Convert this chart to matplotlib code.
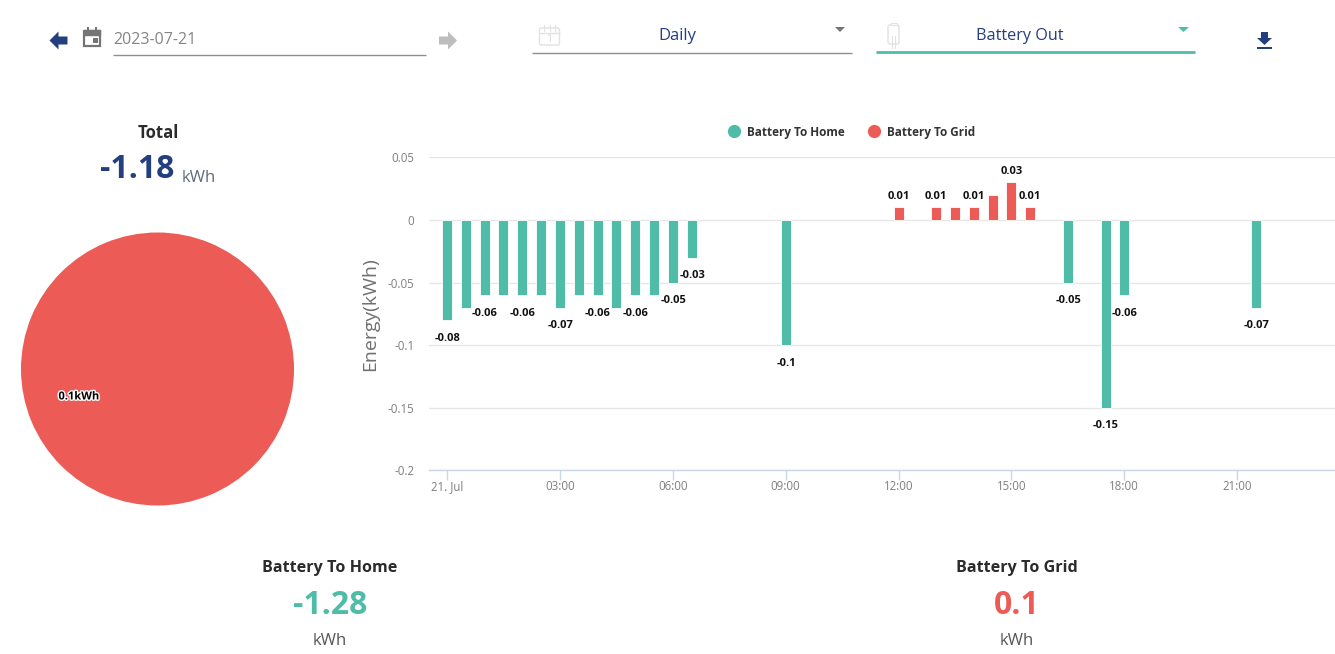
import numpy as np
import matplotlib
matplotlib.use('Agg')
import matplotlib.pyplot as plt
import matplotlib.patheffects as pe
from matplotlib.patches import Polygon, Rectangle, FancyBboxPatch

plt.rcParams['font.family'] = ['Open Sans', 'DejaVu Sans']

# half hour slots, x is hours after midnight
home_hours = [0, 0.5, 1, 1.5, 2, 2.5, 3, 3.5, 4, 4.5, 5, 5.5, 6, 6.5, 9, 16.5, 17.5, 18, 21.5]
home_values = [-0.08, -0.07, -0.06, -0.06, -0.06, -0.06, -0.07, -0.06, -0.06, -0.07, -0.06, -0.06,
               -0.05, -0.03, -0.1, -0.05, -0.15, -0.06, -0.07]
# the chart hides labels that would overlap
home_label_hours = [0, 1, 2, 3, 4, 5, 6, 6.5, 9, 16.5, 17.5, 18, 21.5]
grid_hours = [12, 13, 13.5, 14, 14.5, 15, 15.5]
grid_values = [0.01, 0.01, 0.01, 0.01, 0.02, 0.03, 0.01]
grid_label_hours = [12, 13, 14, 15, 15.5]

y_ticks = [0.05, 0, -0.05, -0.1, -0.15, -0.2]
y_tick_labels = ['0.05', '0', '-0.05', '-0.1', '-0.15', '-0.2']
x_ticks = [0, 3, 6, 9, 12, 15, 18, 21]
x_tick_labels = ['21. Jul', '03:00', '06:00', '09:00', '12:00', '15:00', '18:00', '21:00']

pie_names = ['Battery To Grid']
pie_values = [0.1]

total_value = '-1.18'
home_total = '-1.28'
grid_total = '0.1'

GREEN = '#4fbca8'
RED = '#ec5b55'
NAVY = '#233f80'
DARK = '#2b2b2b'
GREY = '#757575'

W, H = 1335, 654
fig = plt.figure(figsize=(W / 100, H / 100), dpi=100)

# page overlay in pixel coordinates, for the controls and headings
ui = fig.add_axes([0, 0, 1, 1])
ui.set_xlim(0, W)
ui.set_ylim(H, 0)
ui.axis('off')


def px_axes(left, top, right, bottom):
    return fig.add_axes([left / W, 1 - bottom / H, (right - left) / W, (bottom - top) / H])


def arrow(x, y, direction, color):
    # x is the tip of the arrow
    d = direction
    pts = [(x, y), (x - 9 * d, y - 9), (x - 9 * d, y - 4), (x - 18 * d, y - 4),
           (x - 18 * d, y + 4), (x - 9 * d, y + 4), (x - 9 * d, y + 9)]
    ui.add_patch(Polygon(pts, closed=True, fc=color, ec='none'))


def label(x, y, s, size, color=DARK, weight='normal', **kw):
    ui.text(x, y, s, fontsize=size, color=color, fontweight=weight,
            ha=kw.pop('ha', 'center'), va=kw.pop('va', 'center'), **kw)


def rule(x0, x1, y, color, lw):
    ui.plot([x0, x1], [y, y], color=color, lw=lw, solid_capstyle='butt')


# top controls
arrow(49.5, 40.5, -1, NAVY)
arrow(457, 40.5, 1, '#bdbdbd')

# calendar icon
ui.add_patch(Rectangle((84, 31), 16, 15, fc='white', ec=GREY, lw=1.6))
ui.add_patch(Rectangle((84, 30), 16, 5, fc=GREY, ec=GREY, lw=1))
ui.add_patch(Rectangle((87, 27), 2, 3, fc=GREY, ec='none'))
ui.add_patch(Rectangle((95, 27), 2, 3, fc=GREY, ec='none'))
ui.add_patch(Rectangle((93, 38), 5, 5, fc=GREY, ec='none'))

label(113, 39.5, '2023-07-21', 11.5, color='#858585', ha='left')
rule(113, 426, 54.5, '#8f8f8f', 1)

# period dropdown
ui.add_patch(FancyBboxPatch((539.5, 28), 20, 17, boxstyle='round,pad=0,rounding_size=2', fc='white', ec='#e2e2e2', lw=1))
rule(539.5, 559.5, 32.5, '#e2e2e2', 1)
for tick_x in [544, 549.5, 555]:
    ui.plot([tick_x, tick_x], [25, 31], color='#e2e2e2', lw=0.8)
label(549.5, 39, '1', 7.5, color='#d8d8d8')
label(677, 35.5, 'Daily', 12, color=NAVY)
ui.add_patch(Polygon([(835, 27), (845, 27), (840, 32)], fc=GREY, ec='none'))
rule(532, 852, 52.5, '#8f8f8f', 1)

# battery dropdown
ui.add_patch(FancyBboxPatch((888, 25), 11, 19, boxstyle='round,pad=0,rounding_size=2', fc='white', ec='#e2e2e2', lw=1))
ui.add_patch(Rectangle((890.5, 22.5), 6, 2.5, fc='white', ec='#e2e2e2', lw=0.8))
for leg_x in [892, 895]:
    ui.plot([leg_x, leg_x], [36, 48], color='#e2e2e2', lw=0.8)
label(1020, 35.5, 'Battery Out', 11.7, color=NAVY)
ui.add_patch(Polygon([(1178, 27), (1189, 27), (1183.5, 32)], fc=GREEN, ec='none'))
rule(876, 1195, 52, GREEN, 2)

# download icon
ui.add_patch(Polygon([(1261, 32), (1268, 32), (1268, 38), (1272, 38), (1264.5, 45), (1257, 38), (1261, 38)],
                     fc=NAVY, ec='none'))
ui.add_patch(Rectangle((1257, 47), 15, 2, fc=NAVY, ec='none'))

# headings
label(158, 133, 'Total', 12, weight='bold')
label(137.5, 170, total_value, 23, color=NAVY, weight='bold')
label(182, 178, 'kWh', 12, color='#5f6b7a', ha='left')

label(330, 568.5, 'Battery To Home', 11.6, weight='bold')
label(330, 606, home_total, 23, color=GREEN, weight='bold')
label(330, 641, 'kWh', 12, color='#555555')
label(1017, 568.5, 'Battery To Grid', 11.6, weight='bold')
label(1017, 606, grid_total, 23, color=RED, weight='bold')
label(1017, 641, 'kWh', 12, color='#555555')

# legend
ui.plot([734], [131], 'o', ms=9.5, color=GREEN, mec='none')
label(747, 132.5, 'Battery To Home', 8.5, color='#333333', weight='bold', ha='left')
ui.plot([874], [131], 'o', ms=9.5, color=RED, mec='none')
label(887, 132.5, 'Battery To Grid', 8.5, color='#333333', weight='bold', ha='left')

# pie
pie_ax = px_axes(21, 232.5, 294, 505.5)
pie_ax.pie(pie_values, colors=[RED], radius=1, wedgeprops={'lw': 0})
pie_ax.set_xlim(-1, 1)
pie_ax.set_ylim(-1, 1)
pie_ax.text(-0.575, -0.205, f'{pie_values[0]}kWh', fontsize=8, fontweight='bold', color='black',
            ha='center', va='center', path_effects=[pe.withStroke(linewidth=2, foreground='white')])

# bar chart
PX_PER_HOUR = 37.63
ZERO_OFFSET = 18
ax = px_axes(429, 157.4, 1335, 470.4)
ax.set_xlim(-ZERO_OFFSET / PX_PER_HOUR, (906 - ZERO_OFFSET) / PX_PER_HOUR)
ax.set_ylim(-0.2, 0.05)
ax.set_axisbelow(True)
ax.yaxis.grid(True, color='#e6e6e6', lw=1)
ax.xaxis.grid(False)
for name in ['top', 'left', 'right']:
    ax.spines[name].set_visible(False)
ax.spines['bottom'].set_color('#ccd6eb')
ax.spines['bottom'].set_linewidth(1)

bar_w = 10 / PX_PER_HOUR
ax.bar(home_hours, home_values, width=bar_w, color=GREEN, ec='white', lw=0.6)
ax.bar(grid_hours, grid_values, width=bar_w, color=RED, ec='white', lw=0.6)

ax.set_yticks(y_ticks, y_tick_labels)
ax.set_xticks(x_ticks, x_tick_labels)
ax.tick_params(axis='y', length=0, pad=10.5, labelsize=8.3, labelcolor='#7f7f7f')
ax.tick_params(axis='x', length=7, width=1, color='#ccd6eb', pad=-0.3, labelsize=8.3, labelcolor='#7f7f7f')
ax.set_ylabel('Energy(kWh)', fontsize=14, color='#707070')
ax.yaxis.set_label_coords((379 - 429) / 906, 0.5)

for h, v in zip(home_hours, home_values):
    if h in home_label_hours:
        ax.annotate(str(v), (h, v), xytext=(0.3, -18 * 0.72), textcoords='offset points', ha='center', va='center',
                    fontsize=8, fontweight='bold', color='#111111')
for h, v in zip(grid_hours, grid_values):
    if h in grid_label_hours:
        ax.annotate(str(v), (h, v), xytext=(0, 11 * 0.72), textcoords='offset points', ha='center', va='center',
                    fontsize=8, fontweight='bold', color='#111111')

fig.savefig('out.png', dpi=100)
